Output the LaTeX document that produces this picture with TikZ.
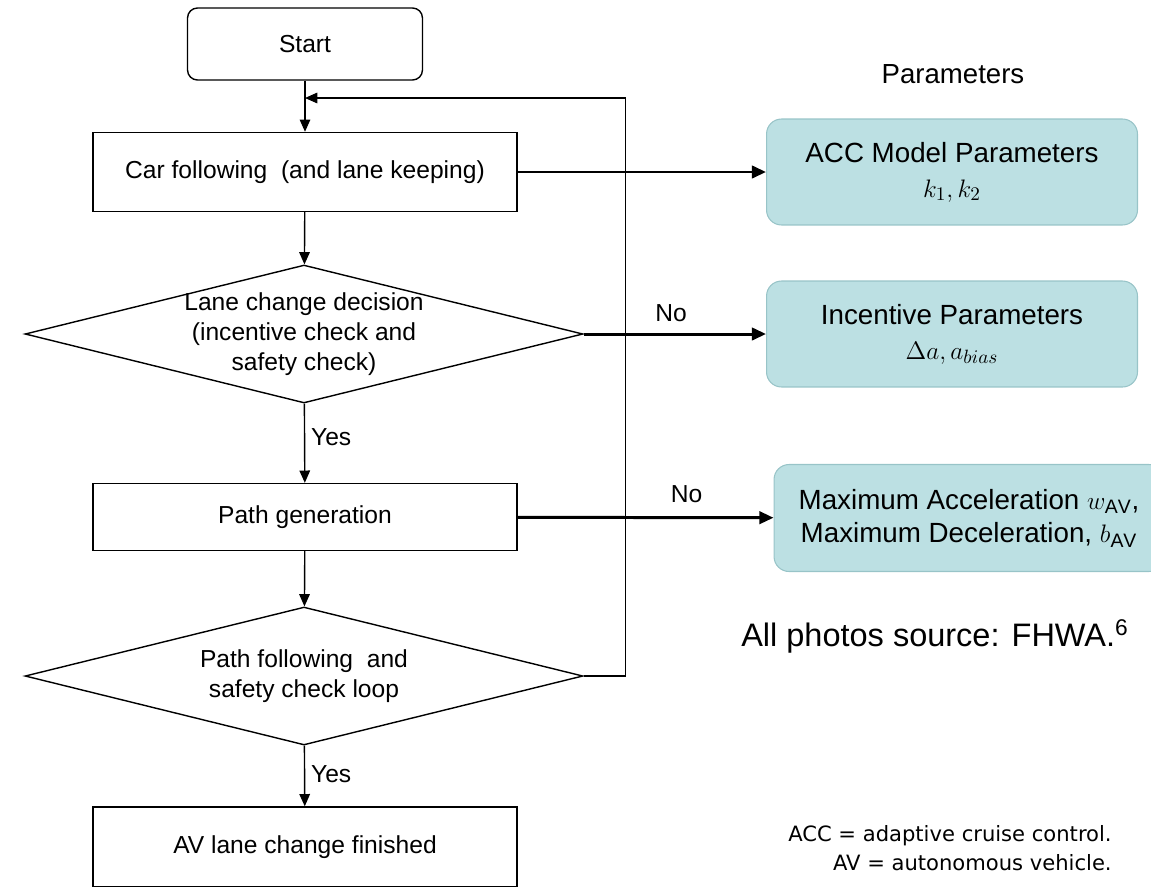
\documentclass[tikz,border=0pt]{standalone}
\usepackage{fontspec}
\setmainfont{Liberation Sans}
\newfontfamily\abbrfont{DejaVu Sans}
\usetikzlibrary{arrows.meta,shapes.geometric}
\definecolor{parfill}{HTML}{BCE0E3}
\definecolor{pardraw}{HTML}{98C4C8}
\begin{document}
\begin{tikzpicture}[x=0.02cm,y=-0.02cm,
    every node/.style={font=\fontsize{14}{17}\selectfont},
    box/.style={draw,line width=0.8pt,minimum width=8.48cm,align=center},
    decision/.style={draw,diamond,line width=0.8pt,aspect=4.04,inner sep=-1.5pt,
      minimum width=11.16cm,minimum height=2.76cm,align=center},
    param/.style={draw=pardraw,fill=parfill,rounded corners=0.3cm,line width=0.6pt,
      minimum width=7.42cm,minimum height=2.12cm,align=center,
      font=\fontsize{15.8}{20}\selectfont},
    flow/.style={line width=0.8pt,-{Triangle[length=7pt,width=6pt]}},
    feed/.style={line width=1.7pt,-{Triangle[length=8pt,width=7pt]}}]
   \clip (0,0) rectangle (1151,886);
   \node (Start) [draw,rounded corners=0.2cm,line width=0.8pt,
      minimum width=4.7cm,minimum height=1.44cm] at (305,44) {Start};
   \node (Car) [box,minimum height=1.58cm] at (305,172) {Car following~ (and lane keeping)};
   \node (Dec) [decision] at (304,334) {Lane change decision\\(incentive check and\\safety check)};
   \node (Gen) [box,minimum height=1.34cm] at (305,517) {Path generation};
   \node (Loop) [decision] at (304,676) {Path following~ and\\safety check loop};
   \node (Fin) [box,minimum height=1.6cm] at (305,847) {AV lane change finished};
   \node (Title) [font=\fontsize{15.7}{18}\selectfont] at (953,74) {Parameters};
   \node (ACC) [param] at (952,172) {ACC Model Parameters\\$k_1,k_2$};
   \node (Inc) [param] at (952,334) {Incentive Parameters\\$\Delta a,a_{bias}$};
   \node (Max) [param,font=\fontsize{15.8}{19}\selectfont,minimum width=7.8cm,
      minimum height=2.14cm] at (969,518)
      {Maximum Acceleration $w_{\mathrm{AV}}$,\\Maximum Deceleration, $b_{\mathrm{AV}}$};
   \node (Src) [font=\fontsize{18.5}{22}\selectfont] at (935,636) {All photos source: FHWA.\textsuperscript{6}};
   \node (Abbr) [font=\abbrfont\fontsize{12}{16.5}\selectfont,align=right,anchor=east,
      inner sep=0pt] at (1112,848) {ACC = adaptive cruise control.\\AV = autonomous vehicle.};
   \coordinate (Back) at (305,98);
   \draw[flow] (Start) -- (Car);
   \draw[flow] (Car) -- (Dec);
   \draw[flow] (Dec) -- node[right,pos=0.42] {Yes} (Gen);
   \draw[flow] (Gen) -- (Loop);
   \draw[flow] (Loop) -- node[right,pos=0.47] {Yes} (Fin);
   \draw[flow] (Loop.east) -- ++(42,0) |- (Back);
   \draw[feed] (Car) -- (ACC);
   \draw[feed] (Dec.east) -- node[above=3pt,pos=0.48] {No} (Inc);
   \draw[feed] (Gen) -- node[above=4pt,pos=0.66] {No} (Max);
\end{tikzpicture}
\end{document}
